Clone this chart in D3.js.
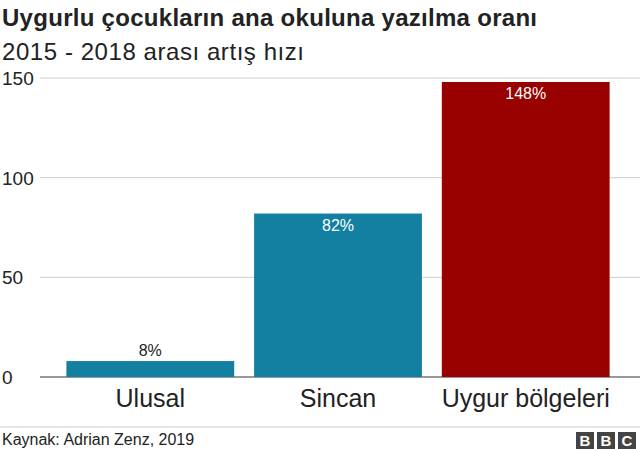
<!DOCTYPE html>
<html><head><meta charset="utf-8">
<script src="https://cdn.jsdelivr.net/npm/d3@7"></script>
<style>body{margin:0;background:#fff}text{font-family:Helvetica,Arial,"Liberation Sans",sans-serif}</style>
</head><body><svg id="c" width="640" height="449"></svg>
<script>
const categories = ["Ulusal", "Sincan", "Uygur bölgeleri"];
const values = [8, 82, 148];
const labels = ["8%", "82%", "148%"];
const colors = ["#1380A1", "#1380A1", "#990000"];
const yTicks = [0, 50, 100, 150];

const svg = d3.select("#c");
const x = d3.scaleBand().domain(categories).range([57, 619]).paddingInner(0.106).paddingOuter(0.05);
const y = d3.scaleLinear().domain([0, 150]).range([377, 78]);

svg.append("text").attr("x", 2).attr("y", 26).attr("font-size", 24).attr("font-weight", "bold")
  .attr("fill", "#222").attr("textLength", 535).text("Uygurlu çocukların ana okuluna yazılma oranı");
svg.append("text").attr("x", 2).attr("y", 60).attr("font-size", 24).attr("fill", "#222")
  .attr("textLength", 302).text("2015 - 2018 arası artış hızı");

const g = svg.append("g");
yTicks.forEach(t => {
  g.append("line").attr("x1", 40).attr("x2", 640).attr("y1", y(t)).attr("y2", y(t))
    .attr("stroke", t === 0 ? "#333" : "#ccc").attr("stroke-width", 1);
  g.append("text").attr("x", 2).attr("y", y(t) + 7).attr("font-size", 19).attr("fill", "#222").text(t);
});

svg.selectAll("rect.bar").data(values).join("rect")
  .attr("x", (d, i) => x(categories[i])).attr("width", x.bandwidth())
  .attr("y", d => y(d)).attr("height", d => y(0) - y(d))
  .attr("fill", (d, i) => colors[i]);

svg.selectAll("text.val").data(values).join("text")
  .attr("x", (d, i) => x(categories[i]) + x.bandwidth() / 2)
  .attr("y", d => d < 20 ? y(d) - 5 : y(d) + 17)
  .attr("text-anchor", "middle").attr("font-size", 16)
  .attr("fill", d => d < 20 ? "#222" : "#fff")
  .text((d, i) => labels[i]);

svg.selectAll("text.cat").data(categories).join("text")
  .attr("x", d => x(d) + x.bandwidth() / 2).attr("y", 407)
  .attr("text-anchor", "middle").attr("font-size", 25).attr("fill", "#222").text(d => d);

svg.append("line").attr("x1", 0).attr("x2", 640).attr("y1", 427).attr("y2", 427).attr("stroke", "#ccc");
svg.append("text").attr("x", 2).attr("y", 445).attr("font-size", 16).attr("fill", "#222").text("Kaynak: Adrian Zenz, 2019");

["B", "B", "C"].forEach((l, i) => {
  const bx = 576 + i * 21;
  svg.append("rect").attr("x", bx).attr("y", 432).attr("width", 18).attr("height", 17).attr("fill", "#444");
  svg.append("text").attr("x", bx + 9).attr("y", 446).attr("text-anchor", "middle")
    .attr("font-size", 15).attr("font-weight", "bold").attr("fill", "#fff").text(l);
});
</script></body></html>
